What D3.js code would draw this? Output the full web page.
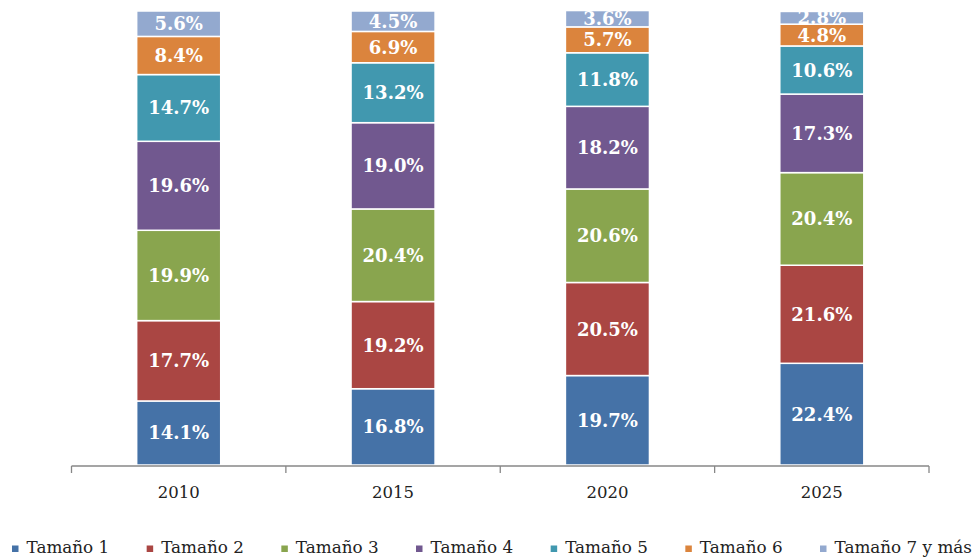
<!DOCTYPE html>
<html><head><meta charset="utf-8">
<script src="https://cdn.jsdelivr.net/npm/d3@7"></script>
<style>
html,body{margin:0;padding:0;background:#fff;}
svg{display:block;}
</style></head>
<body>
<svg id="c" width="977" height="559"></svg>
<script>
const years = ["2010","2015","2020","2025"];
const seriesNames = ["Tamaño 1","Tamaño 2","Tamaño 3","Tamaño 4","Tamaño 5","Tamaño 6","Tamaño 7 y más"];
const tam1 = [14.1,16.8,19.7,22.4];
const tam2 = [17.7,19.2,20.5,21.6];
const tam3 = [19.9,20.4,20.6,20.4];
const tam4 = [19.6,19.0,18.2,17.3];
const tam5 = [14.7,13.2,11.8,10.6];
const tam6 = [8.4,6.9,5.7,4.8];
const tam7 = [5.6,4.5,3.6,2.8];
const colors = ["#4572A7","#AA4643","#89A54E","#71588F","#4198AF","#DB843D","#93A9CF"];

const seriesVals = [tam1,tam2,tam3,tam4,tam5,tam6,tam7];
const rows = years.map((y,i)=>{const o={year:y}; seriesNames.forEach((s,k)=>o[s]=seriesVals[k][i]); return o;});
const stack = d3.stack().keys(seriesNames)(rows);

const svg = d3.select("#c");
const x = d3.scaleBand().domain(years).range([71.5,929]).paddingInner(0.608).paddingOuter(0.304);
const y = d3.scaleLinear().domain([0,100]).range([465,11]);
const serif = "'DejaVu Serif', 'Liberation Serif', serif";

// clip: nothing drawn above the plot top
svg.append("clipPath").attr("id","plot").append("rect")
  .attr("x",0).attr("y",y(100)).attr("width",977).attr("height",y(0)-y(100)+2);

// bars
const g = svg.append("g").attr("clip-path","url(#plot)");
stack.forEach((layer,k)=>{
  g.append("g").selectAll("rect").data(layer).join("rect")
    .attr("x",d=>x(d.data.year))
    .attr("y",d=>y(d[1]))
    .attr("width",x.bandwidth())
    .attr("height",d=>y(d[0])-y(d[1]))
    .attr("fill",colors[k])
    .attr("stroke","#fff").attr("stroke-width",1.5);
});
stack.forEach((layer,k)=>{
  g.append("g").selectAll("text").data(layer).join("text")
    .attr("x",d=>x(d.data.year)+x.bandwidth()/2)
    .attr("y",d=>(y(d[0])+y(d[1]))/2)
    .attr("dy","0.36em")
    .attr("text-anchor","middle")
    .attr("fill","#fff")
    .attr("font-family",serif).attr("font-weight","bold").attr("font-size",18)
    .text(d=>d3.format(".1f")(d[1]-d[0])+"%");
});

// axis
const ax = svg.append("g").attr("stroke","#878787").attr("stroke-width",1.3);
const r = x.range();
ax.append("line").attr("x1",r[0]).attr("x2",r[1]).attr("y1",466).attr("y2",466);
d3.range(years.length+1).forEach(i=>{
  const xp = r[0]+i*x.step();
  ax.append("line").attr("x1",xp).attr("x2",xp).attr("y1",466).attr("y2",473);
});
svg.append("g").selectAll("text").data(years).join("text")
  .attr("x",d=>x(d)+x.bandwidth()/2).attr("y",498)
  .attr("text-anchor","middle").attr("fill","#222")
  .attr("font-family",serif).attr("font-size",16.5)
  .text(d=>d);

// legend
const lx = d3.scaleLinear().domain([0,seriesNames.length-1]).range([12,820]);
const leg = svg.append("g").selectAll("g").data(seriesNames).join("g")
  .attr("transform",(d,i)=>`translate(${lx(i)},0)`);
leg.append("rect").attr("x",0).attr("y",545.5).attr("width",6.5).attr("height",6.5)
  .attr("fill",(d,i)=>colors[i]);
leg.append("text").attr("x",14.5).attr("y",552.5).attr("fill","#222")
  .attr("font-family",serif).attr("font-size",16.8).text(d=>d);
</script>
</body></html>
